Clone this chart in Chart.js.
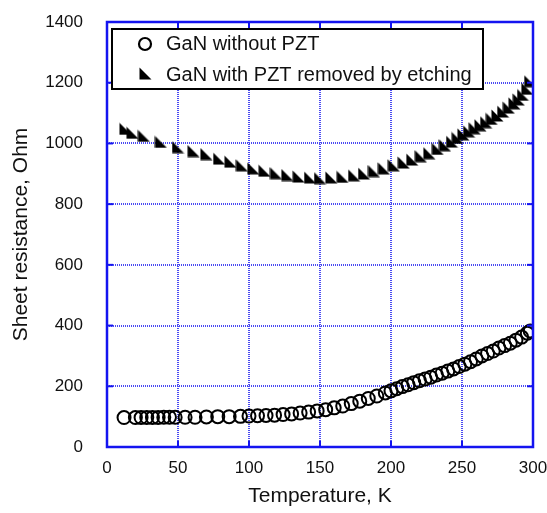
<!DOCTYPE html>
<html><head><meta charset="utf-8">
<script src="https://cdn.jsdelivr.net/npm/chart.js@4/dist/chart.umd.min.js"></script>
<style>html,body{margin:0;padding:0;background:#fff}#wrap{width:547px;height:513px}</style>
</head><body><div id="wrap"><canvas id="c" width="547" height="513"></canvas></div>
<script>
const xTicks = [0, 50, 100, 150, 200, 250, 300];
const yTicks = [0, 200, 400, 600, 800, 1000, 1200, 1400];
const seriesNames = ["GaN without PZT", "GaN with PZT removed by etching"];

const tempWithout = [12,20,24,28,32,36,40,44,48,55,62,70,78,86,94,100,106,112,118,124,130,136,142,148,154,160,166,172,178,184,190,196,200,204,208,212,216,220,224,228,232,236,240,244,248,252,256,260,264,268,272,276,280,284,288,292,296,298];
const resWithout = [97,97,97,97,97,97,98,98,98,98,98,99,100,100,101,102,103,104,105,107,109,112,115,119,123,129,135,143,151,160,168,178,185,192,199,205,212,218,224,230,237,243,250,257,265,273,281,290,300,308,316,326,334,342,352,362,375,382];

const tempEtched = [13,18,26,38,50,61,70,79,87,95,103,111,119,127,135,143,150,158,166,174,181,188,195,202,209,215,221,227,233,238,243,247,251,255,259,263,267,271,275,279,283,287,290,293,296,298];
const resEtched = [1048,1035,1025,1005,988,975,965,950,940,928,918,910,902,896,891,888,886,888,890,895,901,909,918,928,937,947,958,968,982,994,1006,1018,1030,1040,1050,1060,1070,1081,1092,1105,1118,1132,1145,1160,1180,1205];

function triCanvas(s){
  const cv=document.createElement('canvas'); cv.width=s; cv.height=s;
  const g=cv.getContext('2d'); g.fillStyle='#000';
  g.beginPath(); g.moveTo(0.5,0.5); g.lineTo(0.5,s-0.5); g.lineTo(s-0.5,s-0.5); g.closePath(); g.fill();
  return cv;
}
const tri = triCanvas(13);

const BLUE = '#1414f0';
const GRID = '#4a4af2';
const FONT = "'Liberation Sans', Arial, sans-serif";

const framePlugin = {
  id:'frame',
  afterDraw(chart){
    const {ctx, chartArea:a, scales} = chart;
    ctx.save();
    ctx.strokeStyle = BLUE; ctx.lineWidth = 2;
    xTicks.forEach(v=>{
      const x = scales.x.getPixelForValue(v);
      ctx.beginPath(); ctx.moveTo(x,a.bottom); ctx.lineTo(x,a.bottom-6); ctx.stroke();
      ctx.beginPath(); ctx.moveTo(x,a.top); ctx.lineTo(x,a.top+6); ctx.stroke();
    });
    yTicks.forEach(v=>{
      const y = scales.y.getPixelForValue(v);
      ctx.beginPath(); ctx.moveTo(a.left,y); ctx.lineTo(a.left+6,y); ctx.stroke();
      ctx.beginPath(); ctx.moveTo(a.right,y); ctx.lineTo(a.right-6,y); ctx.stroke();
    });
    ctx.lineWidth = 2.5;
    ctx.strokeRect(a.left, a.top, a.right-a.left, a.bottom-a.top);
    const lx=112, ly=29, lw=371, lh=60;
    ctx.fillStyle='#fff'; ctx.fillRect(lx,ly,lw,lh);
    ctx.strokeStyle='#000'; ctx.lineWidth=2; ctx.strokeRect(lx,ly,lw,lh);
    ctx.beginPath(); ctx.arc(145,44,6,0,Math.PI*2); ctx.lineWidth=2.2; ctx.stroke();
    ctx.drawImage(tri, 139, 67);
    ctx.fillStyle='#111'; ctx.font = "20px "+FONT; ctx.textBaseline='middle'; ctx.textAlign='left';
    ctx.fillText(seriesNames[0], 166, 44);
    ctx.fillText(seriesNames[1], 166, 75);
    ctx.restore();
  }
};

new Chart(document.getElementById('c'), {
  type:'scatter',
  data:{datasets:[
    {label:seriesNames[0], data: tempWithout.map((t,i)=>({x:t,y:resWithout[i]})),
     pointStyle:'circle', pointRadius:6.5, pointBorderWidth:2, borderColor:'#000', backgroundColor:'rgba(0,0,0,0)', showLine:false},
    {label:seriesNames[1], data: tempEtched.map((t,i)=>({x:t,y:resEtched[i]})),
     pointStyle:tri, pointRadius:6.5, borderColor:'#000', backgroundColor:'#000', showLine:false}
  ]},
  options:{
    responsive:false, animation:false, devicePixelRatio:1,
    layout:{padding:{left:0, top:22, right:14, bottom:0}},
    plugins:{legend:{display:false}, tooltip:{enabled:false}},
    scales:{
      x:{type:'linear', min:0, max:300,
        afterBuildTicks(s){ s.ticks = xTicks.map(v=>({value:v})); },
        afterFit(s){ s.height = 66; s.paddingLeft = 0; s.paddingRight = 0; },
        grid:{color:GRID, lineWidth:2, drawTicks:false},
        border:{display:false, dash:[1,1]},
        ticks:{padding:11, color:'#111', font:{size:17, family:FONT}, maxRotation:0, callback:v=>String(v)},
        title:{display:true, text:'Temperature, K', color:'#111', font:{size:21, family:FONT}, padding:{top:7}}
      },
      y:{type:'linear', min:0, max:1400,
        afterBuildTicks(s){ s.ticks = yTicks.map(v=>({value:v})); },
        afterFit(s){ s.width = 107; s.paddingTop = 0; s.paddingBottom = 0; },
        grid:{color:GRID, lineWidth:2, drawTicks:false},
        border:{display:false, dash:[1,1]},
        ticks:{padding:24, color:'#111', font:{size:17, family:FONT}, callback:v=>String(v)},
        title:{display:true, text:'Sheet resistance, Ohm', color:'#111', font:{size:21, family:FONT}, padding:{top:9,bottom:0}}
      }
    }
  },
  plugins:[framePlugin]
});
</script></body></html>
